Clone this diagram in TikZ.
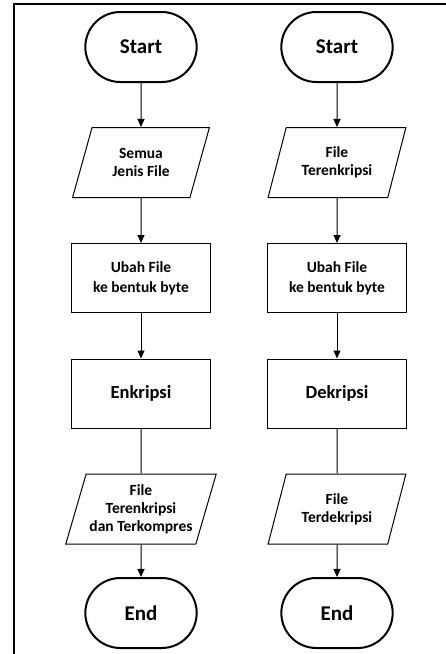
\documentclass[tikz,border=0pt]{standalone}
\usepackage{fontspec}
\setmainfont{Carlito}
\usetikzlibrary{
  arrows.meta,
  shapes.geometric,
  shapes.misc,
}
\tikzstyle{terminal} = [
  rounded rectangle,
  draw,
  line width=2pt,
  minimum width=118pt,
  minimum height=70pt,
  font=\fontsize{21}{24}\selectfont\bfseries,
]
\tikzstyle{io} = [
  trapezium,
  trapezium left angle=70,
  trapezium right angle=110,
  trapezium stretches=true,
  draw,
  line width=1pt,
  minimum width=138pt,
  minimum height=70pt,
  align=center,
  font=\fontsize{15.5}{18}\selectfont\bfseries,
]
\tikzstyle{process} = [
  rectangle,
  draw,
  line width=1pt,
  minimum width=139pt,
  minimum height=69pt,
  align=center,
  font=\fontsize{15.5}{20}\selectfont\bfseries,
]
\tikzstyle{bigtext} = [font=\fontsize{18.5}{22}\selectfont\bfseries]
\tikzstyle{arrow} = [
  -{Triangle[length=8pt,width=7pt]},
  line width=1pt,
]

\begin{document}
\begin{tikzpicture}[x=1pt,y=1pt,node distance=115.5pt]
\useasboundingbox (0,0) rectangle (446,-654);
\draw[line width=1.6pt] (14,-670) -- (14,-4) -- (470,-4);

			% kompresi / enkripsi
			\node[terminal] (start1) at (141,-47) {Start};
			\node[io] (in1) [below of=start1] {Semua\\Jenis File};
			\node[process] (ubah1) [below of=in1] {Ubah File\\ke bentuk byte};
			\node[process,bigtext] (enk) [below of=ubah1] {Enkripsi};
			\node[io] (out1) [below of=enk] {File\\Terenkripsi\\dan Terkompres};
			\node[terminal] (end1) [below of=out1,node distance=104pt] {End};

			% dekripsi
			\node[terminal] (start2) [right of=start1,node distance=196pt] {Start};
			\node[io] (in2) [below of=start2] {File\\Terenkripsi};
			\node[process] (ubah2) [below of=in2] {Ubah File\\ke bentuk byte};
			\node[process,bigtext] (dek) [below of=ubah2] {Dekripsi};
			\node[io] (out2) [below of=dek] {File\\Terdekripsi};
			\node[terminal] (end2) [below of=out2,node distance=104pt] {End};

			\draw[arrow] (start1) -- (in1);
			\draw[arrow] (in1) -- (ubah1);
			\draw[arrow] (ubah1) -- (enk);
			\draw[line width=1pt] (enk) -- (out1);
			\draw[arrow] (out1) -- (end1);

			\draw[arrow] (start2) -- (in2);
			\draw[arrow] (in2) -- (ubah2);
			\draw[arrow] (ubah2) -- (dek);
			\draw[line width=1pt] (dek) -- (out2);
			\draw[arrow] (out2) -- (end2);
\end{tikzpicture}
\end{document}
